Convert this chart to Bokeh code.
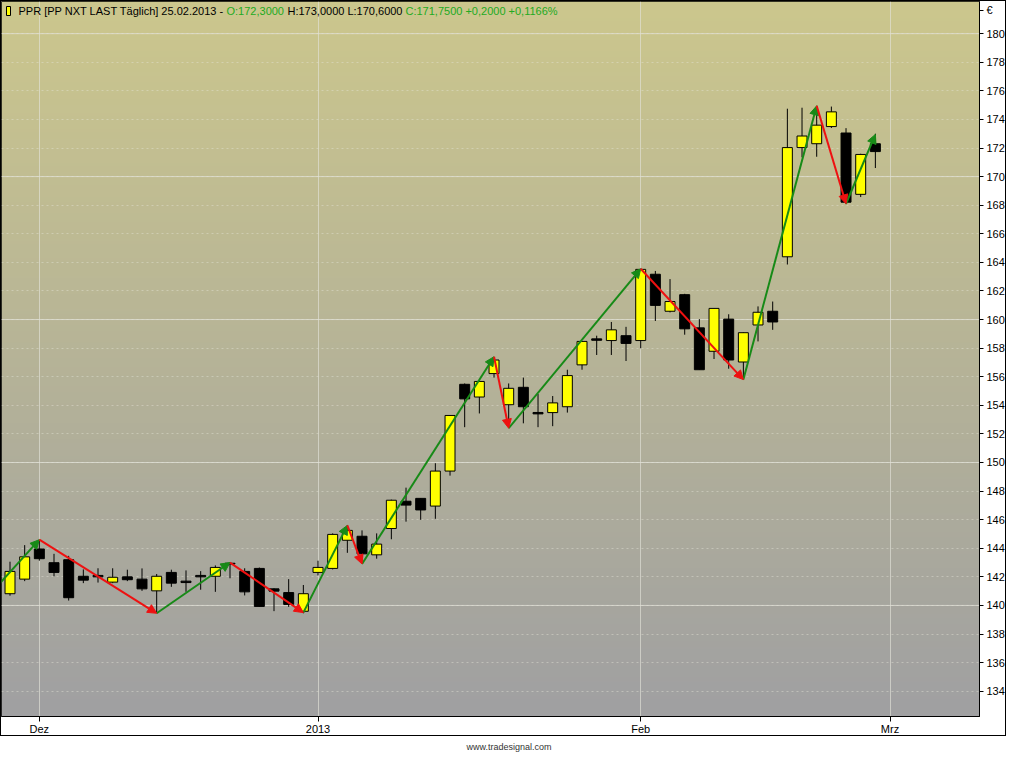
import numpy as np
from bokeh.plotting import figure
from bokeh.models import (ColumnDataSource, FixedTicker, Range1d,
                          Arrow, NormalHead, Label, Span, Div)
from bokeh.layouts import column
from bokeh.embed import file_html
from bokeh.resources import INLINE

# ---- data (PPR daily, 29.11.2012 - 25.02.2013) ----
opens = [140.82, 141.84, 143.95, 142.99, 143.20, 142.04, 142.10, 141.63, 142.00, 141.84,
         141.02, 142.31, 141.70, 142.10, 142.04, 142.95, 142.38, 142.59, 141.16, 140.90,
         139.59, 142.31, 142.59, 144.56, 144.84, 143.54, 145.38, 147.29, 147.49, 146.95,
         149.40, 155.47, 154.58, 156.22, 154.04, 155.26, 153.50, 153.49, 153.90, 156.83,
         158.65, 158.53, 158.87, 158.53, 163.17, 160.58, 161.74, 159.42, 157.78, 160.03,
         157.03, 159.62, 160.58, 164.39, 172.03, 172.30, 173.50, 173.05, 168.76, 172.30]
highs = [143.06, 144.22, 144.60, 143.61, 143.47, 142.52, 142.60, 142.60, 142.50, 142.59,
         142.20, 142.50, 142.45, 142.40, 142.80, 143.00, 142.60, 142.65, 141.20, 141.84,
         141.43, 143.13, 145.04, 145.59, 145.25, 145.04, 147.40, 148.24, 147.50, 149.95,
         153.30, 155.53, 155.70, 157.37, 155.53, 155.94, 154.79, 154.65, 156.49, 158.50,
         158.87, 159.83, 159.49, 163.55, 163.40, 162.83, 161.80, 160.03, 160.80, 160.37,
         159.10, 160.92, 161.26, 174.75, 174.82, 174.96, 174.90, 173.39, 171.60, 173.00]
lows = [140.68, 141.70, 143.13, 142.04, 140.34, 141.56, 141.60, 141.56, 141.70, 141.02,
        139.45, 141.30, 140.95, 141.10, 140.95, 141.90, 140.70, 139.90, 139.60, 139.90,
        139.45, 142.10, 142.52, 143.68, 142.93, 143.27, 144.63, 145.86, 145.99, 146.06,
        149.08, 152.47, 153.43, 155.94, 152.40, 152.74, 152.47, 152.54, 153.49, 156.49,
        157.52, 157.52, 157.10, 157.99, 159.90, 160.50, 158.94, 156.49, 157.24, 156.56,
        155.81, 158.47, 159.28, 163.85, 171.35, 171.39, 173.40, 168.07, 168.57, 170.60]
closes = [142.38, 143.40, 143.27, 142.31, 140.54, 141.77, 142.00, 141.97, 141.80, 141.16,
          142.04, 141.56, 141.60, 142.00, 142.66, 142.90, 140.95, 139.93, 141.00, 140.07,
          140.82, 142.66, 144.97, 145.25, 143.61, 144.29, 147.36, 147.02, 146.68, 149.40,
          153.29, 154.45, 155.67, 157.17, 155.19, 153.90, 153.40, 154.17, 156.08, 158.47,
          158.55, 159.28, 158.33, 163.51, 160.99, 161.26, 159.35, 156.49, 160.78, 157.17,
          159.08, 160.51, 159.83, 172.03, 172.84, 173.60, 174.53, 168.21, 171.55, 171.75]

# month ticks (bar index of first trading day) and labels
month_idx = [2, 21, 43, 60]
month_lbl = ["Dez", "2013", "Feb", "Mrz"]

# price axis ticks
y_ticks = [134, 136, 138, 140, 142, 144, 146, 148, 150, 152, 154, 156, 158,
           160, 162, 164, 166, 168, 170, 172, 174, 176, 178, 180]
y_major_lines = [140, 150, 160, 170, 180]
currency_pos = 181.65
currency_lbl = "€"

# zigzag swing points (bar index, price)
swing_idx = [-1, 2, 10, 15, 20, 23, 24, 33, 34, 43, 50, 55, 57, 59]
swing_px = [141.2, 144.6, 139.45, 143.0, 139.5, 145.6, 142.9, 157.4, 152.4, 163.55,
            155.8, 174.95, 168.1, 172.95]

header_parts = [("PPR [PP NXT LAST Täglich] 25.02.2013 - ", "black"),
                ("O:172,3000", "#22aa22"),
                ("H:173,0000 L:170,6000", "black"),
                ("C:171,7500 +0,2000 +0,1166%", "#22aa22")]
header_offsets = [17, 225, 286, 404]

# ---- build ----
x = list(range(len(opens)))
src = ColumnDataSource(dict(
    x=x, o=opens, h=highs, l=lows, c=closes,
    top=[max(a, b) for a, b in zip(opens, closes)],
    bot=[min(a, b) for a, b in zip(opens, closes)],
    color=["#ffff00" if c >= o else "#000000" for o, c in zip(opens, closes)],
))

x_lo, x_hi = -0.58, 66.1
y_lo, y_hi = 132.23, 182.25

p = figure(width=1006, height=736, x_range=Range1d(x_lo, x_hi), y_range=Range1d(y_lo, y_hi),
           output_backend="svg", toolbar_location=None, y_axis_location="right",
           min_border_left=0, min_border_top=0, min_border_right=0, min_border_bottom=0,
           background_fill_color="#b4b296", border_fill_color="white",
           outline_line_color="black", outline_line_width=1)

# vertical gradient background
n = 256
t = np.linspace(0.0, 1.0, n)
top_rgb = np.array([204, 199, 141], dtype=float)
bot_rgb = np.array([160, 160, 162], dtype=float)
rgb = bot_rgb[None, :] * (1 - t[:, None]) + top_rgb[None, :] * t[:, None]
img = np.zeros((n, 2), dtype=np.uint32)
view = img.view(dtype=np.uint8).reshape((n, 2, 4))
for k in range(3):
    view[:, :, k] = rgb[:, k:k + 1].astype(np.uint8)
view[:, :, 3] = 255
p.image_rgba(image=[img], x=x_lo, y=y_lo, dw=x_hi - x_lo, dh=y_hi - y_lo, level="image")

# grids
p.yaxis.ticker = FixedTicker(ticks=y_ticks + [currency_pos])
p.yaxis.major_label_overrides = {currency_pos: currency_lbl}
p.ygrid.ticker = FixedTicker(ticks=y_ticks)
p.ygrid.grid_line_color = "#e4e4d6"
p.ygrid.grid_line_alpha = 0.45
p.ygrid.grid_line_dash = "2 3"
for v in y_major_lines:
    p.add_layout(Span(location=v, dimension="width", line_color="#e2e2d8",
                      line_alpha=0.75, line_width=1, level="underlay"))
p.xaxis.ticker = FixedTicker(ticks=month_idx)
p.xgrid.ticker = FixedTicker(ticks=month_idx)
p.xgrid.grid_line_color = "#e2e2d8"
p.xgrid.grid_line_alpha = 0.65

# candles
p.segment(x0="x", y0="l", x1="x", y1="h", line_color="black", line_width=1, source=src)
p.vbar(x="x", width=0.68, top="top", bottom="bot", fill_color="color",
       line_color="black", line_width=1, source=src)

# zigzag arrows
up = dict(x0=[], y0=[], x1=[], y1=[])
dn = dict(x0=[], y0=[], x1=[], y1=[])
for i in range(len(swing_idx) - 1):
    d = up if swing_px[i + 1] > swing_px[i] else dn
    d["x0"].append(swing_idx[i]); d["y0"].append(swing_px[i])
    d["x1"].append(swing_idx[i + 1]); d["y1"].append(swing_px[i + 1])
for d, col in ((up, "#178a17"), (dn, "#ee1111")):
    p.add_layout(Arrow(end=NormalHead(size=9, fill_color=col, line_color=col, line_width=1),
                       x_start="x0", y_start="y0", x_end="x1", y_end="y1",
                       line_color=col, line_width=2, source=ColumnDataSource(d)))

# axes
for ax in (p.xaxis[0], p.yaxis[0]):
    ax.axis_line_color = "black"
    ax.major_tick_line_color = "black"
    ax.minor_tick_line_color = None
    ax.major_tick_in = 0
    ax.major_label_text_font = "Liberation Sans"
    ax.major_label_text_font_size = "11px"
    ax.major_label_text_color = "black"
p.yaxis.major_tick_out = 4
p.yaxis.major_label_standoff = 3
p.xaxis.major_tick_out = 5
p.xaxis.major_label_standoff = 1
p.xaxis.major_label_overrides = {i: s for i, s in zip(month_idx, month_lbl)}
p.xaxis.major_label_text_align = "left"

# header
p.add_layout(Label(x=x_lo, y=y_hi, x_offset=5, y_offset=-5, text="\u2002",
                   text_font_size="8px", text_baseline="top",
                   background_fill_color="#ffff00", border_line_color="black"))
for (txt, col), off in zip(header_parts, header_offsets):
    p.add_layout(Label(x=x_lo, y=y_hi, x_offset=off, y_offset=-3, text=txt,
                       text_font="Liberation Sans", text_font_size="11px",
                       text_color=col, text_baseline="top"))

p.styles = {"border": "1px solid black"}

footer = Div(text="www.tradesignal.com", width=1008, height=14,
             styles={"text-align": "center", "font-family": "Liberation Sans",
                     "font-size": "9px", "color": "#333333", "width": "1008px"})

layout = column(p, footer, spacing=0)
open("out.html", "w").write(file_html(layout, INLINE))
